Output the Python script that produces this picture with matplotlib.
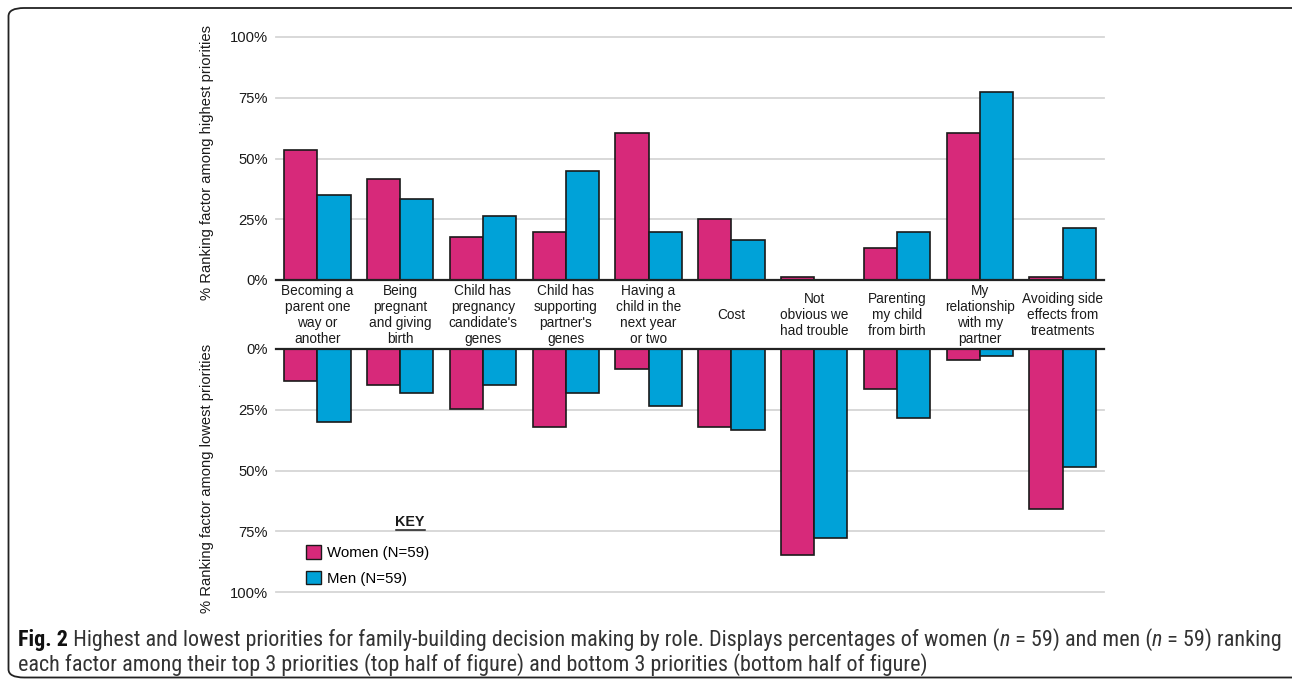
import matplotlib
matplotlib.use("Agg")
import matplotlib.pyplot as plt
from matplotlib import font_manager
from matplotlib.patches import FancyBboxPatch, Patch
from matplotlib.lines import Line2D
from matplotlib.transforms import blended_transform_factory
import numpy as np

categories = [
    "Becoming a\nparent one\nway or\nanother",
    "Being\npregnant\nand giving\nbirth",
    "Child has\npregnancy\ncandidate's\ngenes",
    "Child has\nsupporting\npartner's\ngenes",
    "Having a\nchild in the\nnext year\nor two",
    "Cost",
    "Not\nobvious we\nhad trouble",
    "Parenting\nmy child\nfrom birth",
    "My\nrelationship\nwith my\npartner",
    "Avoiding side\neffects from\ntreatments",
]
women_top = [53.6, 41.7, 17.9, 19.8, 60.4, 25.0, 1.3, 13.1, 60.4, 1.3]
men_top = [35.1, 33.2, 26.5, 45.0, 19.8, 16.4, 0.0, 19.8, 77.2, 21.2]
women_bottom = [13.0, 14.8, 24.8, 32.0, 8.2, 32.0, 84.8, 16.3, 4.4, 65.8]
men_bottom = [30.0, 18.2, 14.8, 18.2, 23.5, 33.3, 77.6, 28.3, 3.0, 48.7]
yticks = [0, 25, 50, 75, 100]
ytick_labels = ["0%", "25%", "50%", "75%", "100%"]
series_labels = ["Women (N=59)", "Men (N=59)"]

WOMEN = "#D7297A"
MEN = "#00A2D8"
EDGE = "#1a1a1a"
GRID = "#d6d6d6"
TXT = "#1a1a1a"

avail = {f.name for f in font_manager.fontManager.ttflist}
chart_font = "Liberation Sans" if "Liberation Sans" in avail else "DejaVu Sans"
cap_font = "DejaVu Sans"
for cand in ["Liberation Sans Narrow", "Roboto Condensed", "Open Sans Condensed", "Noto Sans", "Open Sans"]:
    if cand in avail:
        cap_font = cand
        break
plt.rcParams["font.family"] = [chart_font, "DejaVu Sans"]

W, H = 1292, 685
fig = plt.figure(figsize=(W / 100, H / 100), dpi=100)

def fx(px):
    return px / W

def fy(py):
    return 1 - py / H

# border
border = FancyBboxPatch((fx(8.5), fy(677.5)), fx(1310) - fx(8.5), fy(8) - fy(677.5),
                        boxstyle="round,pad=0,rounding_size=0.012",
                        transform=fig.transFigure, fill=False, edgecolor="#222222",
                        linewidth=1.3, clip_on=False)
fig.patches.append(border)

left, right = 276, 1104
ax_top = fig.add_axes([fx(left), fy(280), fx(right) - fx(left), fy(37) - fy(280)])
ax_bot = fig.add_axes([fx(left), fy(592), fx(right) - fx(left), fy(349) - fy(592)])

x = np.arange(len(categories))
bw = 0.4
for ax, wv, mv in [(ax_top, women_top, men_top), (ax_bot, women_bottom, men_bottom)]:
    ax.set_facecolor("none")
    for t in yticks[1:]:
        ax.axhline(t, color=GRID, lw=1.3, zorder=0, clip_on=False)
    ax.bar(x - bw / 2, wv, bw, color=WOMEN, edgecolor=EDGE, linewidth=1.2, zorder=2,
           label=series_labels[0])
    ax.bar(x + bw / 2, mv, bw, color=MEN, edgecolor=EDGE, linewidth=1.2, zorder=2,
           label=series_labels[1])
    ax.axhline(0, color="#222222", lw=1.6, zorder=3, clip_on=False)
    ax.set_xlim(-0.5, len(categories) - 0.5)
    ax.set_yticks(yticks)
    ax.set_yticklabels(ytick_labels)
    ax.tick_params(axis="y", length=0, pad=6, labelsize=10.6, labelcolor=TXT)
    ax.tick_params(axis="x", length=0, labelbottom=False)
    for s in ax.spines.values():
        s.set_visible(False)

ax_top.set_ylim(0, 100)
ax_bot.set_ylim(100, 0)

# category labels in the band between the panels
trans = blended_transform_factory(ax_top.transData, fig.transFigure)
for xi, lab in zip(x, categories):
    ax_top.text(xi, fy(315), lab, transform=trans, ha="center", va="center",
                fontsize=9.8, linespacing=1.2, color=TXT, clip_on=False)

fig.text(fx(207), fy(163), "% Ranking factor among highest priorities", rotation=90,
         ha="center", va="center", fontsize=10.6, color=TXT)
fig.text(fx(207), fy(478), "% Ranking factor among lowest priorities", rotation=90,
         ha="center", va="center", fontsize=10.6, color=TXT)

# key
fig.text(fx(410), fy(522), "KEY", ha="center", va="center", fontsize=10.3,
         fontweight="bold", color=TXT)
fig.add_artist(Line2D([fx(395.5), fx(425.5)], [fy(529.5), fy(529.5)], color=TXT, lw=1.1,
                      transform=fig.transFigure))
handles = [Patch(facecolor=WOMEN, edgecolor=EDGE, linewidth=1.0),
           Patch(facecolor=MEN, edgecolor=EDGE, linewidth=1.0)]
fig.legend(handles, series_labels, loc="upper left", bbox_to_anchor=(fx(306), fy(545)),
           frameon=False, fontsize=10.8, handlelength=1.0, handleheight=1.05,
           handletextpad=0.4, labelspacing=0.7, borderpad=0, borderaxespad=0)

# caption
line1 = [("Fig. 2", "bold", "normal"),
         (" Highest and lowest priorities for family-building decision making by role. Displays percentages of women (", "normal", "normal"),
         ("n", "normal", "italic"),
         (" = 59) and men (", "normal", "normal"),
         ("n", "normal", "italic"),
         (" = 59) ranking", "normal", "normal")]
line2 = [("each factor among their top 3 priorities (top half of figure) and bottom 3 priorities (bottom half of figure)", "normal", "normal")]

fig.canvas.draw()
renderer = fig.canvas.get_renderer()

def draw_line(pieces, x0, ypx, size):
    xcur = x0
    arts = []
    for txt, wt, st in pieces:
        t = fig.text(fx(xcur), fy(ypx), txt, ha="left", va="center", fontsize=size,
                     fontweight=wt, fontstyle=st, family=[cap_font, "DejaVu Sans"],
                     color="#111111" if wt == "bold" else "#333333")
        bb = t.get_window_extent(renderer=renderer)
        xcur += bb.width
        arts.append(t)
    return xcur - x0, arts

size = 12.0
w, arts = draw_line(line1, 18, 640, size)
for a in arts:
    a.remove()
size = size * (1265 / w)
draw_line(line1, 18, 640, size)
draw_line(line2, 18, 665, size)

fig.savefig("out.png", dpi=100)
